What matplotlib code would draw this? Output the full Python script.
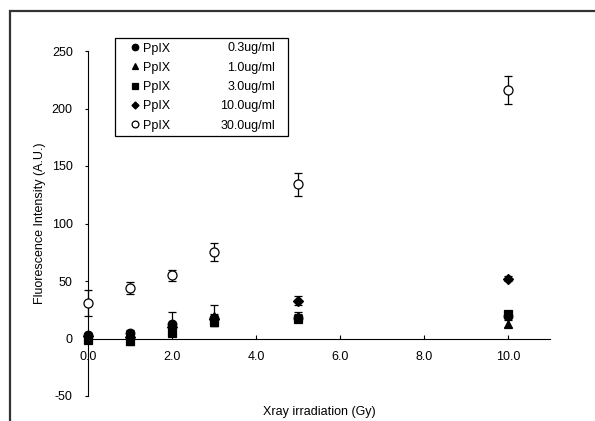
import matplotlib
matplotlib.use("Agg")
import matplotlib.pyplot as plt
from matplotlib.patches import Rectangle

plt.rcParams["font.family"] = ["Liberation Sans", "DejaVu Sans"]
plt.rcParams["font.size"] = 9
plt.rcParams["axes.unicode_minus"] = False

# dose (Gy)
dose = [0, 1, 2, 3, 5, 10]

# mean fluorescence per PpIX concentration
conc_labels = ["0.3ug/ml", "1.0ug/ml", "3.0ug/ml", "10.0ug/ml", "30.0ug/ml"]
ppix_03 = [3, 5, 13, 18, 18, 20]
ppix_10 = [0, -2, 8, 20, 20, 13]
ppix_30 = [-1, -2, 5, 14, 17, 21]
ppix_100 = [2, 1, 10, 17, 33, 52]
ppix_300 = [31, 44, 55, 75, 134, 216]

err_03 = [2, 2, 10, 3, 3, 2]
err_10 = [2, 2, 3, 9, 3, 3]
err_30 = [2, 2, 3, 3, 3, 2]
err_100 = [2, 2, 3, 3, 4, 2]
err_300 = [11, 5, 5, 8, 10, 12]

series = [ppix_03, ppix_10, ppix_30, ppix_100, ppix_300]
errors = [err_03, err_10, err_30, err_100, err_300]
markers = ["o", "^", "s", "D", "o"]
msizes = [6.2, 6.2, 5.8, 4.8, 6.5]
faces = ["black", "black", "black", "black", "white"]

fig = plt.figure(figsize=(5.95, 4.21), dpi=100)
ax = fig.add_axes([88 / 595, 1 - 396 / 421, 462 / 595, 345 / 421])

# outer frame (cut off at right and bottom like the original)
fig.patches.append(Rectangle((10 / 595, -0.1), 1.2, 1 - 10.5 / 421 + 0.1,
                             transform=fig.transFigure, fill=False,
                             edgecolor="#333333", linewidth=1.6, clip_on=False))

handles = []
for y, e, m, ms, fc in zip(series, errors, markers, msizes, faces):
    cont = ax.errorbar(dose, y, yerr=e, fmt=m, ms=ms, mfc=fc, mec="black",
                       mew=0.9, ecolor="black", elinewidth=0.9, capsize=3,
                       capthick=0.9, clip_on=False, zorder=3)
    arts = [cont.lines[0]] + list(cont.lines[1]) + list(cont.lines[2])
    for art in arts:
        art.set_clip_on(False)
    handles.append(cont.lines[0])

ax.set_xlim(0, 11)
ax.set_ylim(-50, 250)
ax.set_xticks([0, 2, 4, 6, 8, 10])
ax.set_xticklabels(["0.0", "2.0", "4.0", "6.0", "8.0", "10.0"])
ax.set_yticks([-50, 0, 50, 100, 150, 200, 250])

ax.spines["top"].set_visible(False)
ax.spines["right"].set_visible(False)
ax.spines["bottom"].set_position(("data", 0))
ax.spines["bottom"].set_linewidth(0.8)
ax.spines["left"].set_linewidth(0.8)
ax.tick_params(axis="x", direction="in", length=3, width=0.8, pad=9)
ax.tick_params(axis="y", direction="out", length=2, width=0.8, pad=9)

ax.set_xlabel("Xray irradiation (Gy)")
ax.set_ylabel("Fluorescence Intensity (A.U.)")
ax.xaxis.set_label_coords(0.5, -0.03)
ax.yaxis.set_label_coords(-0.091, 0.5)

# legend box drawn separately so the markers sit where they do in the original
ax.add_patch(Rectangle(((115 - 88) / 462, (396 - 136) / 345), 173 / 462, 98 / 345,
                       transform=ax.transAxes, fill=False, edgecolor="black",
                       linewidth=0.9, clip_on=False, zorder=4))
leg = ax.legend(handles, ["PpIX"] * 5, loc="upper left",
                bbox_to_anchor=((130 - 88) / 462, (396 - 42.5) / 345),
                frameon=False, handlelength=0.8, handletextpad=0.25,
                labelspacing=0.58, borderpad=0, borderaxespad=0,
                markerscale=0.75)

# concentration column in the legend, right aligned
fig.canvas.draw()
rend = fig.canvas.get_renderer()
inv = fig.transFigure.inverted()
for t, lab in zip(leg.get_texts(), conc_labels):
    bb = t.get_window_extent(rend)
    xf, yf = inv.transform((275, (bb.y0 + bb.y1) / 2))
    fig.text(xf, yf, lab, ha="right", va="center")

plt.savefig("out.png", dpi=100)
